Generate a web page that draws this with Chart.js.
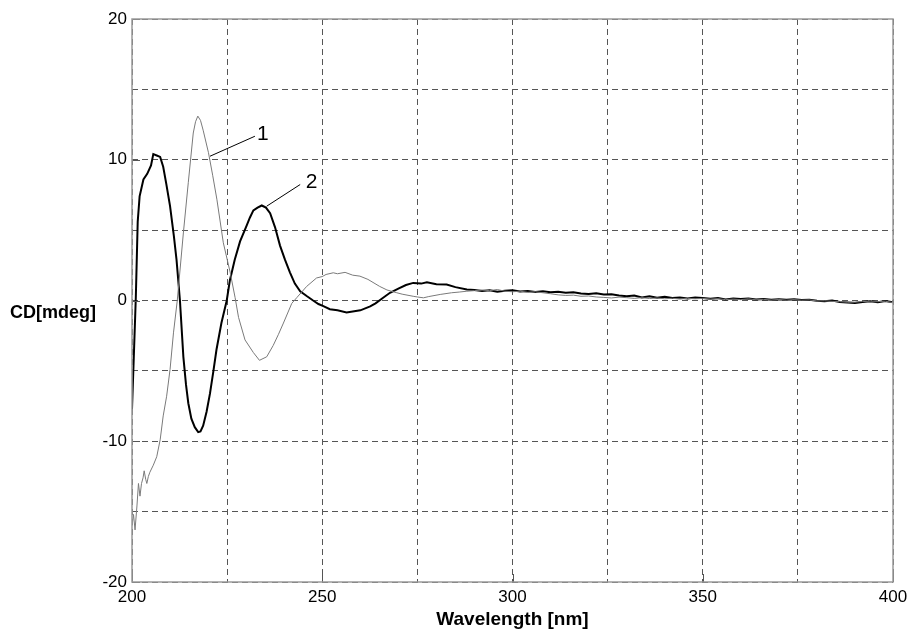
<!DOCTYPE html>
<html>
<head>
<meta charset="utf-8">
<script src="https://cdn.jsdelivr.net/npm/chart.js@4/dist/chart.umd.min.js"></script>
<style>
  html, body { margin: 0; padding: 0; background: #fff; }
  #wrap { width: 909px; height: 631px; position: relative; }
</style>
</head>
<body>
<div id="wrap"><canvas id="myChart" width="909" height="631"></canvas></div>
<script>
// wavelength (nm) and CD (mdeg)
const wl1 = [200, 200.4, 200.8, 201.3, 201.7, 202.1, 202.5, 202.9, 203.2, 203.6, 203.9, 204.3, 204.7, 205.6, 206.5, 207.4, 208.2, 209.1, 210, 210.9, 211.9,
  213.5, 214.8, 216.1, 216.7, 217.3, 218, 218.7, 220.1, 221.2, 222.3, 224, 225.8, 227.1, 228, 229.7, 231.9, 233.5, 235.4, 237.1, 238.5, 239.8, 242,
  243.3, 245.9, 248.5, 250, 251, 252.9, 254, 256, 258, 259.9, 262, 265.1, 267, 269.6, 271, 273.9, 275, 276.6, 278, 281, 284, 286, 288,
  290, 292, 294, 296, 298, 300, 302, 304, 306, 308, 310, 312, 314, 316, 318, 320, 322, 324, 326, 328, 330, 332, 334, 336, 338, 340,
  342, 344, 346, 348, 350, 352, 354, 356, 358, 360, 362, 364, 366, 368, 370, 372, 374, 376, 378, 380, 382, 384, 386, 388, 390, 392,
  394, 396, 398, 400];
const cd1 = [-16.0, -15.2, -16.3, -14.6, -13.0, -13.9, -13.0, -12.6, -12.1, -12.7, -13.0, -12.5, -12.2, -11.7, -11.1, -9.9, -8.2, -6.8, -4.9, -2.3, 0,
  4.8, 8.4, 11.9, 12.7, 13.1, 12.8, 12.1, 10.5, 8.9, 7.2, 4.1, 2.0, 0.2, -1.2, -2.8, -3.7, -4.25, -4.0, -3.2, -2.4, -1.6, -0.2,
  0.2, 1.0, 1.6, 1.7, 1.85, 1.97, 1.9, 2.0, 1.8, 1.73, 1.5, 1.0, 0.75, 0.55, 0.45, 0.3, 0.25, 0.19, 0.28, 0.43, 0.55, 0.6, 0.66,
  0.70, 0.74, 0.70, 0.78, 0.66, 0.62, 0.66, 0.58, 0.62, 0.55, 0.48, 0.40, 0.36, 0.38, 0.30, 0.32, 0.25, 0.22, 0.18, 0.24, 0.20, 0.15, 0.20, 0.14, 0.18, 0.12,
  0.16, 0.10, 0.15, 0.12, 0.15, 0.10, 0.13, 0.06, 0.10, 0.06, 0.12, 0.05, 0.08, 0.03, 0.07, 0.02, 0.06, 0.02, 0.04, -0.03, -0.02, -0.06, -0.08, -0.12, -0.12, -0.06,
  -0.10, -0.08, -0.05, -0.15];

const wl2 = [200, 200.5, 201, 201.5, 202, 203, 204, 205, 205.6, 206.5, 207.4, 208.2, 209, 210, 211, 211.7, 212.6, 213.5, 214.2, 214.8, 215.6, 216.5,
  217.4, 218, 218.7, 219.6, 220.5, 221.4, 222.2, 223.5, 224.9, 225.7, 227, 228.4, 230.1, 231, 231.9, 233, 234.1, 235.2, 236.3, 237.6, 238.9,
  240.2, 241.5, 242.8, 244.2, 246, 247.6, 249, 250.3, 252, 254, 256.4, 258, 260, 262.6, 264, 266, 267.8, 270, 272, 273.9, 276, 277.5, 280,
  282.7, 285, 288,
  290, 292, 294, 296, 298, 300, 302, 304, 306, 308, 310, 312, 314, 316, 318, 320, 322, 324, 326, 328, 330, 332, 334, 336, 338, 340,
  342, 344, 346, 348, 350, 352, 354, 356, 358, 360, 362, 364, 366, 368, 370, 372, 374, 376, 378, 380, 382, 384, 386, 388, 390, 392,
  394, 396, 398, 400];
const cd2 = [-7.7, -3.8, 0.2, 5.6, 7.4, 8.6, 9.0, 9.6, 10.4, 10.3, 10.2, 9.5, 8.3, 6.7, 4.6, 2.9, 0, -4.0, -6.0, -7.3, -8.4, -9.0,
  -9.35, -9.3, -8.9, -7.9, -6.6, -5.0, -3.5, -1.6, 0, 1.4, 2.9, 4.2, 5.3, 5.9, 6.4, 6.6, 6.75, 6.6, 6.2, 5.2, 3.9,
  2.9, 2.0, 1.2, 0.66, 0.3, 0.0, -0.25, -0.4, -0.62, -0.7, -0.85, -0.78, -0.7, -0.42, -0.2, 0.2, 0.55, 0.85, 1.1, 1.25, 1.2, 1.3, 1.15,
  1.14, 0.95, 0.78,
  0.75, 0.68, 0.72, 0.62, 0.70, 0.73, 0.64, 0.68, 0.60, 0.66, 0.58, 0.62, 0.55, 0.59, 0.50, 0.47, 0.52, 0.42, 0.45, 0.35, 0.30, 0.36, 0.22, 0.30, 0.20, 0.26,
  0.18, 0.22, 0.14, 0.21, 0.17, 0.12, 0.18, 0.08, 0.14, 0.10, 0.15, 0.08, 0.11, 0.05, 0.09, 0.06, 0.08, 0.03, 0.05, -0.02, -0.05, 0.00, -0.10, -0.14, -0.18, -0.10,
  -0.06, -0.12, -0.03, -0.12];

const xTicks = [200, 250, 300, 350, 400];
const yTicks = [-20, -10, 0, 10, 20];

// curve labels: leader line from/to and text spot, in data units
const labels = [
  { text: "1", from: [220.5, 10.25], to: [232.3, 11.67], at: [233.6, 11.83] },
  { text: "2", from: [235.4, 6.7], to: [244.2, 8.24], at: [246.4, 8.42] }
];

const FONT = "Arial, 'Liberation Sans', sans-serif";

const toPoints = (xs, ys) => xs.map((x, i) => ({ x: x, y: ys[i] }));

const extras = {
  id: "extras",
  afterDraw(chart) {
    const { ctx, chartArea: a, scales } = chart;
    ctx.save();
    // short solid ticks inside the frame at the labelled values
    ctx.strokeStyle = "#555";
    ctx.lineWidth = 1;
    ctx.beginPath();
    xTicks.forEach((v) => {
      const px = Math.round(scales.x.getPixelForValue(v)) + 0.5;
      ctx.moveTo(px, a.bottom);
      ctx.lineTo(px, a.bottom - 8);
    });
    yTicks.forEach((v) => {
      const py = Math.round(scales.y.getPixelForValue(v)) + 0.5;
      ctx.moveTo(a.left, py);
      ctx.lineTo(a.left + 8, py);
    });
    ctx.stroke();
    // frame
    ctx.strokeStyle = "#9a9a9a";
    ctx.lineWidth = 1.5;
    ctx.strokeRect(a.left, a.top, a.right - a.left, a.bottom - a.top);
    // y title, written flat
    ctx.fillStyle = "#000";
    ctx.font = "bold 18px " + FONT;
    ctx.textAlign = "left";
    ctx.textBaseline = "alphabetic";
    ctx.fillText("CD[mdeg]", 10, scales.y.getPixelForValue(0) + 17);
    // curve labels
    ctx.strokeStyle = "#000";
    ctx.lineWidth = 1;
    ctx.font = "21px " + FONT;
    ctx.textAlign = "center";
    ctx.textBaseline = "middle";
    labels.forEach((l) => {
      ctx.beginPath();
      ctx.moveTo(scales.x.getPixelForValue(l.from[0]), scales.y.getPixelForValue(l.from[1]));
      ctx.lineTo(scales.x.getPixelForValue(l.to[0]), scales.y.getPixelForValue(l.to[1]));
      ctx.stroke();
      ctx.fillText(l.text, scales.x.getPixelForValue(l.at[0]) + 3, scales.y.getPixelForValue(l.at[1]));
    });
    ctx.restore();
  }
};

const ctx = document.getElementById("myChart").getContext("2d");
new Chart(ctx, {
  type: "line",
  data: {
    datasets: [
      {
        label: "1",
        data: toPoints(wl1, cd1),
        borderColor: "#7a7a7a",
        borderWidth: 1,
        pointRadius: 0,
        tension: 0
      },
      {
        label: "2",
        data: toPoints(wl2, cd2),
        borderColor: "#000",
        borderWidth: 2,
        pointRadius: 0,
        tension: 0
      }
    ]
  },
  options: {
    responsive: false,
    animation: false,
    layout: { padding: { top: 19, right: 16, left: 0, bottom: 0 } },
    plugins: {
      legend: { display: false },
      tooltip: { enabled: false }
    },
    scales: {
      x: {
        type: "linear",
        min: 200,
        max: 400,
        ticks: {
          stepSize: 25,
          color: "#000",
          font: { size: 17, family: FONT },
          padding: 5,
          maxRotation: 0,
          callback: (v) => (xTicks.includes(v) ? String(v) : "")
        },
        grid: { color: "#555", lineWidth: 1, drawTicks: false },
        border: { display: false, dash: [6, 4] },
        title: {
          display: true,
          text: "Wavelength [nm]",
          color: "#000",
          font: { size: 19, weight: "bold", family: FONT },
          padding: { top: 0, bottom: 0 }
        },
        afterFit: (s) => {
          s.height = 49;
          s.paddingLeft = 0;
          s.paddingRight = 0;
        }
      },
      y: {
        min: -20,
        max: 20,
        ticks: {
          stepSize: 5,
          color: "#000",
          font: { size: 17, family: FONT },
          padding: 5,
          callback: (v) => (yTicks.includes(v) ? String(v) : "")
        },
        grid: { color: "#555", lineWidth: 1, drawTicks: false },
        border: { display: false, dash: [6, 4] },
        afterFit: (s) => {
          s.width = 132;
          s.paddingTop = 0;
          s.paddingBottom = 0;
        }
      }
    }
  },
  plugins: [extras]
});
</script>
</body>
</html>
